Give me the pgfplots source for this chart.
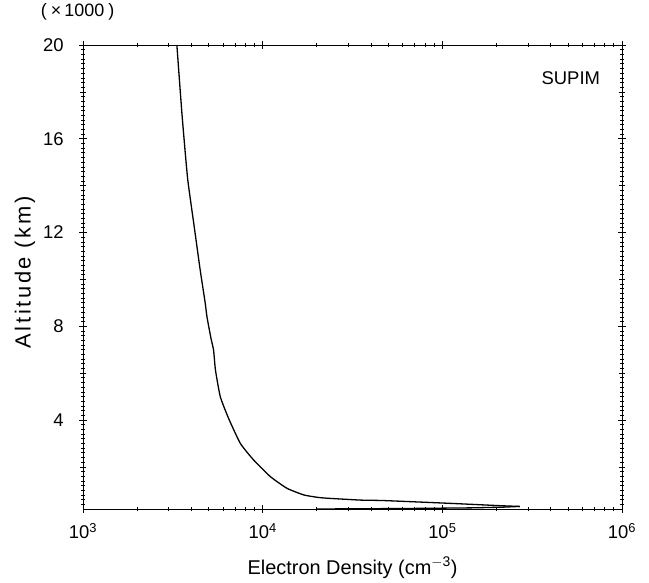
\documentclass[border=0pt]{standalone}
\usepackage{pgfplots}
\pgfplotsset{compat=1.18}
\usepackage{fontspec}
\setmainfont{Liberation Sans}
\begin{document}
\begin{tikzpicture}
\begin{axis}[
  at={(0,0)}, anchor=south west,
  scale only axis, width=539bp, height=464bp,
  xmode=log, xmin=1e3, xmax=1e6,
  ymin=0.2, ymax=20,
  xtick={1e3,1e4,1e5,1e6},
  xticklabels={10\textsuperscript{3},10\textsuperscript{4},10\textsuperscript{5},10\textsuperscript{6}},
  ytick={4,8,12,16,20},
  yticklabels={4,8,12,16,20},
  minor ytick={0.4,0.6,...,19.8},
  extra y ticks={2,6,10,14,18},
  extra y tick labels={},
  extra y tick style={major tick length=6bp},
  tick align=center,
  major tick length=8bp,
  minor tick length=4bp,
  tick style={black, line width=0.6bp},
  axis line style={line width=0.8bp},
  xticklabel style={font=\fontsize{18.5}{22}\selectfont, yshift=-7bp},
  yticklabel style={font=\fontsize{18.5}{22}\selectfont, xshift=-12bp},
  xlabel={Electron Density (cm\textsuperscript{$-$3})},
  ylabel={\addfontfeatures{LetterSpace=12}Altitude (km)},
  xlabel style={font=\fontsize{20}{24}\selectfont, at={(rel axis cs:0.5,-0.127)}, anchor=center},
  ylabel style={font=\fontsize{22}{26}\selectfont, at={(rel axis cs:-0.1076,0.51)}, anchor=center},
  clip mode=individual,
]
\addplot[black, line width=1.3bp, smooth, tension=0.3] coordinates {
(3330,20) (3560,17) (3820,14.32) (4150,12.3) (4490,10.40) (4790,8.98) (4897,8.40)
(5150,7.5) (5330,6.98) (5460,6.13) (5810,4.99) (6460,4.07) (7510,3.0) (8910,2.29)
(11040,1.58) (13680,1.08) (16940,0.80) (20100,0.70) (22860,0.66) (35070,0.58)
(47300,0.56) (111400,0.44) (211800,0.34) (270000,0.31)
};
\addplot[black, line width=1.3bp] coordinates {
(270000,0.31) (220000,0.28) (150000,0.25) (60000,0.22) (20000,0.2)
};
\node[font=\fontsize{18.5}{22}\selectfont] at (rel axis cs:0.905,0.929) {SUPIM};
\node[font=\fontsize{18}{21}\selectfont, inner sep=0pt] at (rel axis cs:-0.01,1.071) {(\hspace{4bp}×\hspace{3bp}1000\hspace{4bp})};
\end{axis}
\pgfresetboundingbox
\path[use as bounding box] (-83bp,-74bp) rectangle (566bp,509bp);
\end{tikzpicture}
\end{document}
